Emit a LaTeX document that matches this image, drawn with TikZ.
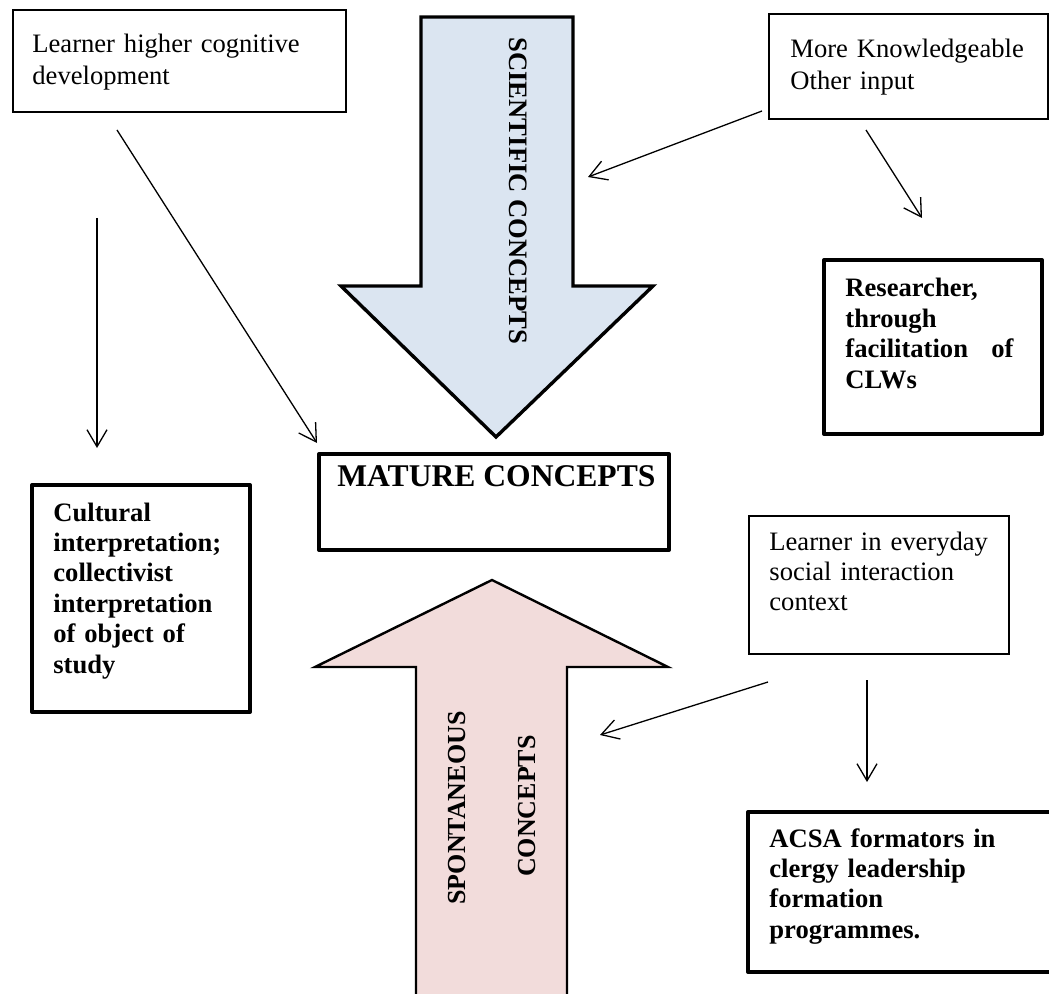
\documentclass[tikz,border=0pt]{standalone}
\usepackage{fontspec}
\setmainfont{Liberation Serif}
\usetikzlibrary{arrows.meta}
\definecolor{sciblue}{HTML}{DBE5F1}
\definecolor{sponpink}{HTML}{F2DCDB}
\tikzset{
  thinbox/.style={draw,line width=1pt,inner sep=0pt,anchor=north west},
  thickbox/.style={draw,line width=2pt,line join=round,inner sep=0pt,anchor=north west},
  boxtext/.style={anchor=base west,inner sep=0pt,align=left,font=\fontsize{13.3}{15.2}\selectfont},
  boxbold/.style={boxtext,font=\fontsize{13.3}{15.2}\selectfont\bfseries},
  feed/.style={line width=0.65pt,-{Straight Barb[length=8.5pt,width=10pt]}}
}
\begin{document}
\begin{tikzpicture}[x=0.5pt,y=-0.5pt]
  \useasboundingbox (0,0) rectangle (1049,994);
  \draw[fill=sciblue,line width=1.7pt] (421,17) -- (573,17) -- (573,286) -- (653,286) -- (496,437) -- (341,286) -- (421,286) -- cycle;
  \node[rotate=-90,font=\bfseries\fontsize{13.3}{15}\selectfont] (sci) at (518,191) {SCIENTIFIC CONCEPTS};
  \draw[fill=sponpink,line width=1.2pt] (416,1010) -- (416,667) -- (315,667) -- (492,580) -- (668,667) -- (567,667) -- (567,1010) -- cycle;
  \node[rotate=90,font=\bfseries\fontsize{13}{15}\selectfont] (spon) at (457,808) {SPONTANEOUS};
  \node[rotate=90,font=\bfseries\fontsize{13}{15}\selectfont] (sponcon) at (527,806) {CONCEPTS};

  \node[thinbox,minimum width=166.5pt,minimum height=51pt] (dev) at (12,9) {};
  \node[boxtext,text width=150pt,font=\fontsize{13.3}{16}\selectfont] (devtext) at (32,53) {Learner higher cognitive\\development};
  \node[thinbox,minimum width=139.5pt,minimum height=52.5pt] (mko) at (768,13) {};
  \node[boxtext,text width=130pt,font=\fontsize{13.3}{16}\selectfont] (mkotext) at (790,58) {More Knowledgeable\\Other input};
  \node[thickbox,minimum width=109pt,minimum height=87pt] (res) at (822,258) {};
  \node[boxbold,text width=84pt] (restext) at (845,297) {Researcher,\\through\\facilitation\hfill of\\CLWs};
  \node[thickbox,minimum width=109pt,minimum height=113.5pt] (cult) at (30,483) {};
  \node[boxbold,text width=90pt] (culttext) at (53,521) {Cultural\\interpretation;\\collectivist\\interpretation\\of object of\\study};
  \node[thickbox,minimum width=175pt,minimum height=48pt] (mature) at (317,452) {};
  \node[anchor=base west,inner sep=0pt,font=\bfseries\fontsize{15.8}{18}\selectfont] (maturetext) at (337,487) {MATURE CONCEPTS};
  \node[thinbox,minimum width=130pt,minimum height=69pt] (daily) at (748,515) {};
  \node[boxtext,text width=115pt] (dailytext) at (769,550) {Learner in everyday\\social interaction\\context};
  \node[thickbox,minimum width=162pt,minimum height=80pt] (acsa) at (746,810) {};
  \node[boxbold,text width=125pt] (acsatext) at (769,847) {ACSA formators in\\clergy leadership\\formation\\programmes.};

  \coordinate (devfoot) at (117,130);
  \coordinate (matcorner) at (317,443);
  \coordinate (leftfoot) at (97,218);
  \coordinate (culttop) at (97,448);
  \coordinate (mkofoot) at (762,111);
  \coordinate (scishaft) at (588,177);
  \coordinate (mkodown) at (866,130);
  \coordinate (restop) at (922,218);
  \coordinate (dailyfoot) at (768,682);
  \coordinate (sponshaft) at (600,735);
  \coordinate (dailydown) at (867,680);
  \coordinate (acsatop) at (867,782);
  \draw[feed] (devfoot) -- (matcorner);
  \draw[feed] (leftfoot) -- (culttop);
  \draw[feed] (mkofoot) -- (scishaft);
  \draw[feed] (mkodown) -- (restop);
  \draw[feed] (dailyfoot) -- (sponshaft);
  \draw[feed] (dailydown) -- (acsatop);
\end{tikzpicture}
\end{document}
